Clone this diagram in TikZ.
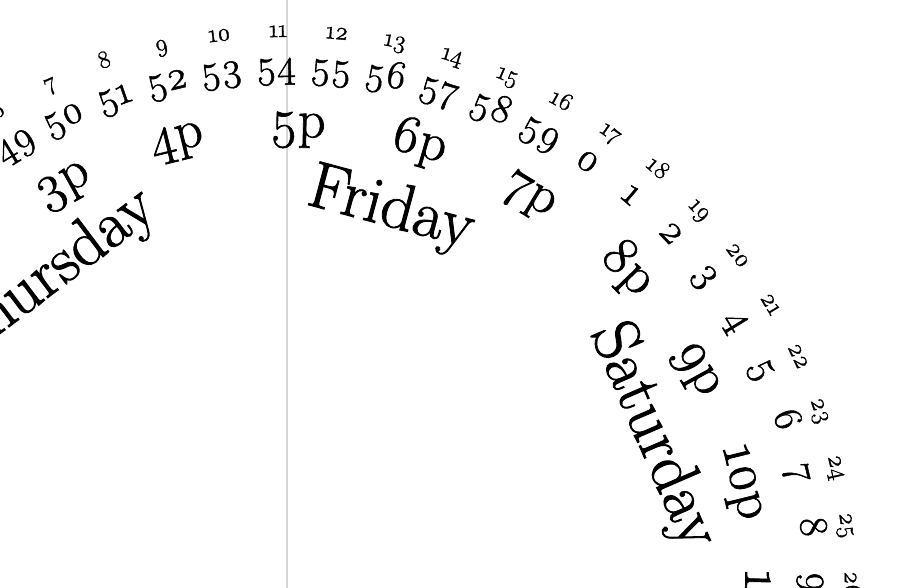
\documentclass[tikz,border=0pt]{standalone}
\usepackage{fontspec}
\setmainfont{Latin Modern Roman}[Numbers=OldStyle, FakeBold=1.3]
\begin{document}
\begin{tikzpicture}[x=1pt,y=1pt,
  lbl/.style={anchor=base, inner sep=0pt, text=black},
  secl/.style={lbl, font=\fontsize{25}{27}\selectfont},
  minl/.style={lbl, font=\fontsize{40}{42}\selectfont},
  hourl/.style={lbl, font=\fontsize{54}{56}\selectfont},
  dayl/.style={lbl, font=\fontsize{66}{68}\selectfont},
  nowline/.style={draw=black!16, line width=2.5pt}
]
\useasboundingbox (0,0) rectangle (916,-588);
\coordinate (c) at (288,-594);
\coordinate (lb) at (287,-588);
\coordinate (lt) at (287,0);
\draw[nowline] (lb) -- (lt);
% outer ring (seconds)
\foreach \n in {6,...,26} {
  \pgfmathsetmacro\a{6*\n-67}
  \node[secl, rotate=-\a] (s\n) at ([shift={(90-\a:557)}]c) {\n};
}
% minute ring
\foreach \k in {49,...,69} {
  \pgfmathsetmacro\a{6*(\k-54)-1.3}
  \pgfmathtruncatemacro\lab{mod(\k,60)}
  \node[minl, rotate=-\a] (m\k) at ([shift={(90-\a:517)}]c) {\lab};
}
% hour ring
\foreach \h/\t in {15/3p,16/4p,17/5p,18/6p,19/7p,20/8p,21/9p,22/10p,23/11p} {
  \pgfmathsetmacro\a{15*(\h-17)+1.2}
  \node[hourl, rotate=-\a] (h\h) at ([shift={(90-\a:457)}]c) {\t};
}
% day ring
\foreach \d/\a in {Thursday/-37,Friday/15,Saturday/66.6} {
  \node[dayl, rotate=-\a] (d\d) at ([shift={(90-\a:381)}]c) {\d};
}
\end{tikzpicture}
\end{document}
